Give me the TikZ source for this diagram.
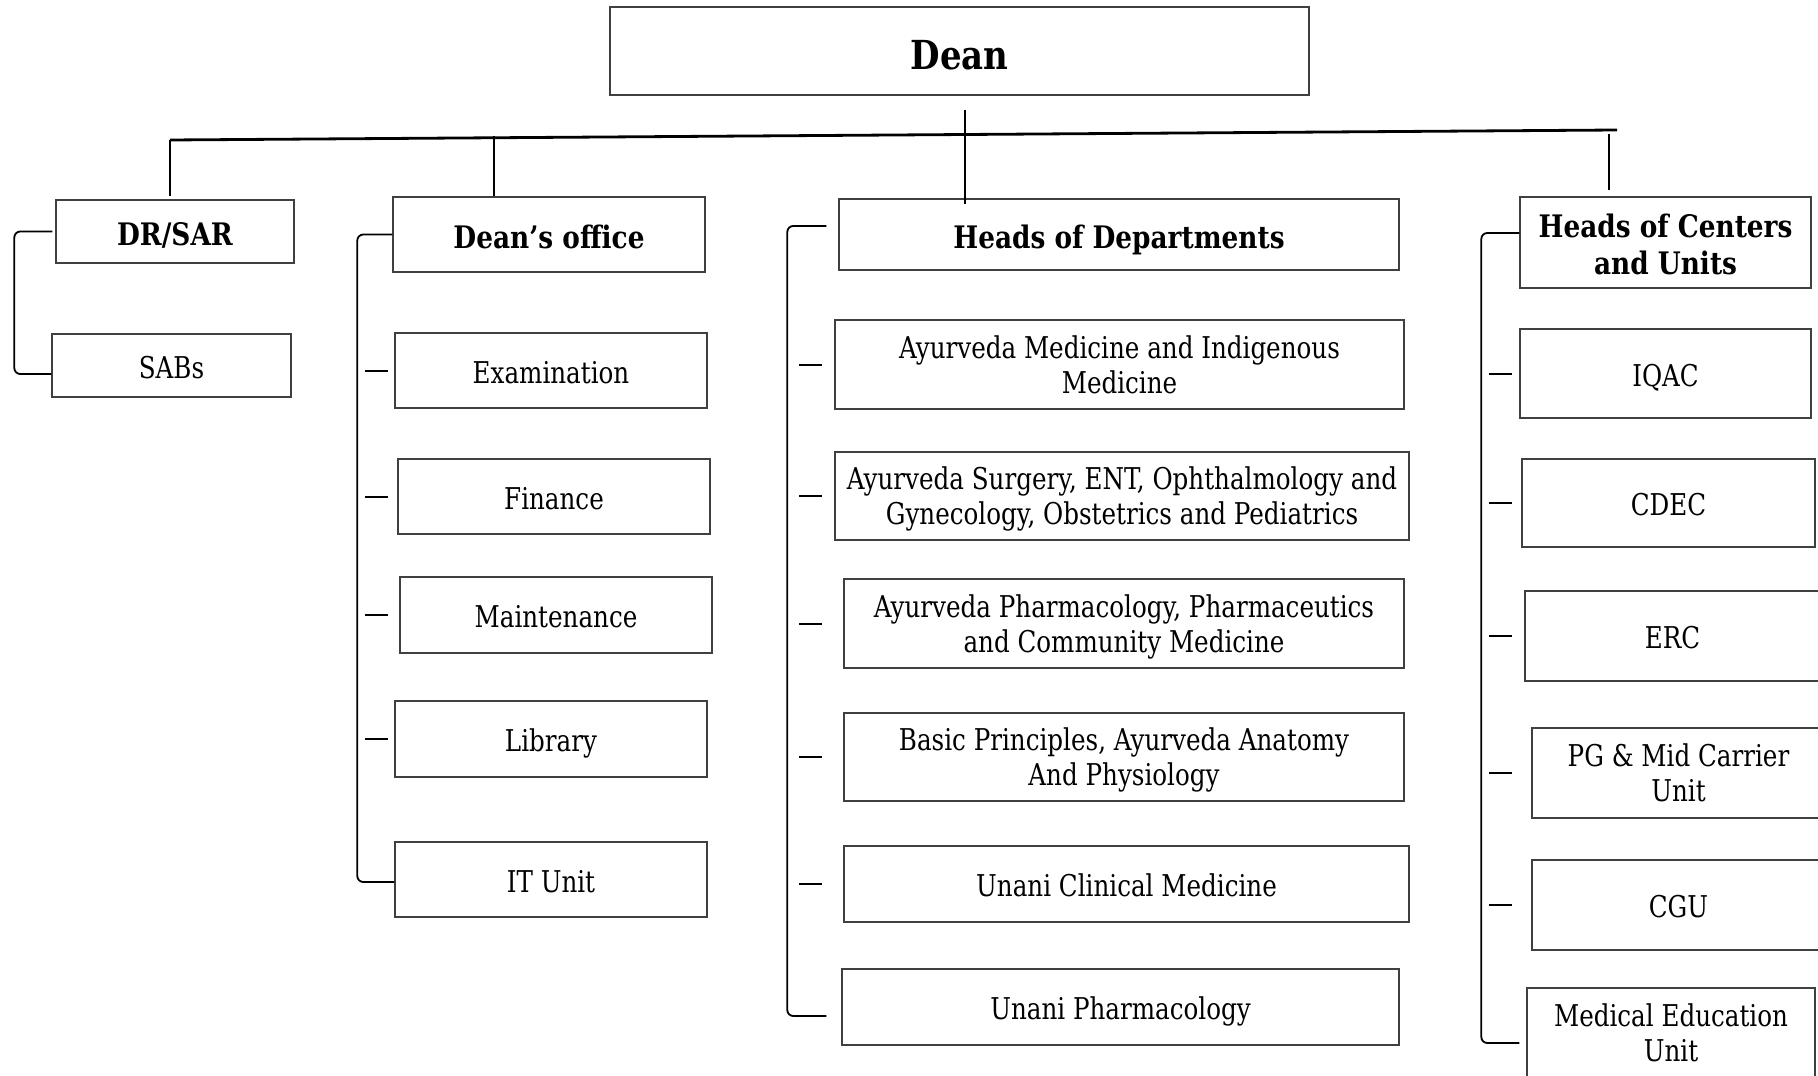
\documentclass[tikz,border=0pt]{standalone}
\usepackage{fontspec}
\setmainfont{DejaVu Serif}[FakeStretch=0.82,BoldFeatures={FakeStretch=0.85}]
\usetikzlibrary{calc}
\begin{document}
\begin{tikzpicture}[x=0.5pt,y=-0.5pt,
  vstrut/.style={execute at begin node={\rule[-4pt]{0pt}{#1}}},
  box/.style={draw=black!75,line width=0.7pt,align=center,inner sep=1pt,
    font=\fontsize{15}{17.5}\selectfont,vstrut=20.6pt},
  box2/.style={box,vstrut=36.6pt},
  head/.style={box,font=\bfseries\fontsize{15.5}{18.5}\selectfont,vstrut=22pt},
  head2/.style={head,vstrut=39.6pt},
  conn/.style={draw=black,line width=1pt},
  bus/.style={draw=black,line width=1.4pt},
  brk/.style={draw=black,line width=0.9pt,rounded corners=3pt},
  tickln/.style={draw=black,line width=1pt}]
\useasboundingbox (0,0) rectangle (1818,1075);
% boxes
\node[box,font=\bfseries\fontsize{20}{24}\selectfont,vstrut=26.2pt,minimum width=349.5pt,minimum height=44pt] (dean) at (959.5,51) {Dean};
\node[head,minimum width=119pt,minimum height=31.5pt] (drsar) at (175,231.5) {DR/SAR};
\node[box,minimum width=119.5pt,minimum height=31.5pt] (sabs) at (171.5,365.5) {SABs};
\node[head,minimum width=156pt,minimum height=37.5pt] (doff) at (549,234.5) {Dean’s office};
\node[box,minimum width=156pt,minimum height=37.5pt] (exam) at (551,370.5) {Examination};
\node[box,minimum width=156pt,minimum height=37.5pt] (fin) at (554,496.5) {Finance};
\node[box,minimum width=156pt,minimum height=38pt] (maint) at (556,615) {Maintenance};
\node[box,minimum width=156pt,minimum height=38pt] (lib) at (551,739) {Library};
\node[box,minimum width=156pt,minimum height=37.5pt] (itu) at (551,879.5) {IT Unit};
\node[head,minimum width=280pt,minimum height=35.5pt] (hd) at (1119,234.5) {Heads of Departments};
\node[box2,minimum width=284.5pt,minimum height=44.5pt] (d1) at (1119.5,364.5) {Ayurveda Medicine and Indigenous\\Medicine};
\node[box2,minimum width=287pt,minimum height=44pt] (d2) at (1122,496) {Ayurveda Surgery, ENT, Ophthalmology and\\Gynecology, Obstetrics and Pediatrics};
\node[box2,minimum width=280pt,minimum height=44.5pt] (d3) at (1124,623.5) {Ayurveda Pharmacology, Pharmaceutics\\and Community Medicine};
\node[box2,minimum width=280pt,minimum height=44pt] (d4) at (1124,757) {Basic Principles, Ayurveda Anatomy\\And Physiology};
\node[box,minimum width=282.5pt,minimum height=38pt] (d5) at (1126.5,884) {Unani Clinical Medicine};
\node[box,minimum width=278.5pt,minimum height=38pt] (d6) at (1120.5,1007) {Unani Pharmacology};
\node[head2,minimum width=145.5pt,minimum height=45.5pt] (hc) at (1665.5,242.5) {Heads of Centers\\and Units};
\node[box,minimum width=145.5pt,minimum height=44.5pt] (iqac) at (1665.5,373.5) {IQAC};
\node[box,minimum width=146.5pt,minimum height=44pt] (cdec) at (1668.5,503) {CDEC};
\node[box,minimum width=147.5pt,minimum height=45pt] (erc) at (1672.5,636) {ERC};
\node[box2,minimum width=146.5pt,minimum height=45pt] (pg) at (1678.5,773) {PG \& Mid Carrier\\Unit};
\node[box,minimum width=146.5pt,minimum height=45pt] (cgu) at (1678.5,905) {CGU};
\node[box2,minimum width=144pt,minimum height=45pt] (med) at (1671,1033) {Medical Education\\Unit};
% bus and drops
\coordinate (busL) at (170,140);
\coordinate (busR) at (1617,130);
\coordinate (j2) at (494,136);
\coordinate (j4) at (1609,134);
\draw[bus] (busL) -- (busR);
\draw[conn,shorten >=1.5pt] (busL) -- (busL |- drsar.north);
\draw[conn] (j2) -- (j2 |- doff.north);
\draw[conn,shorten >=4pt] ([xshift=2.75pt,yshift=-7pt]dean.south) -- ([xshift=2.75pt,yshift=-7pt]dean.south |- hd.north);
\draw[conn,shorten >=3pt] (j4) -- (j4 |- hc.north);
% brackets
\draw[brk] ([xshift=-1.5pt]drsar.west) -| ([xshift=-18.5pt,yshift=-4.25pt]sabs.west) -- ([yshift=-4.25pt]sabs.west);
\draw[brk] (doff.west) -| ([xshift=-18.5pt,yshift=-1.25pt]itu.west) -- ([yshift=-1.25pt]itu.west);
\draw[brk] ([xshift=-6pt,yshift=4.25pt]hd.west) -| ([xshift=-27pt,yshift=-4.5pt]d6.west) -- ([xshift=-7.5pt,yshift=-4.5pt]d6.west);
\draw[brk] ([yshift=4.75pt]hc.west) -| ([xshift=-22.5pt,yshift=-5pt]med.west) -- ([xshift=-3.5pt,yshift=-5pt]med.west);
% ticks
\coordinate (tA1) at (365,0); \coordinate (tA2) at (388,0);
\coordinate (tB1) at (799,0); \coordinate (tB2) at (822,0);
\coordinate (tC1) at (1489,0); \coordinate (tC2) at (1512,0);
\foreach \n in {exam,fin,maint,lib} {\draw[tickln] (tA1 |- \n.west) -- (tA2 |- \n.west);}
\foreach \n in {d1,d2,d3,d4,d5} {\draw[tickln] (tB1 |- \n.west) -- (tB2 |- \n.west);}
\foreach \n in {iqac,cdec,erc,pg,cgu} {\draw[tickln] (tC1 |- \n.west) -- (tC2 |- \n.west);}
\end{tikzpicture}
\end{document}
